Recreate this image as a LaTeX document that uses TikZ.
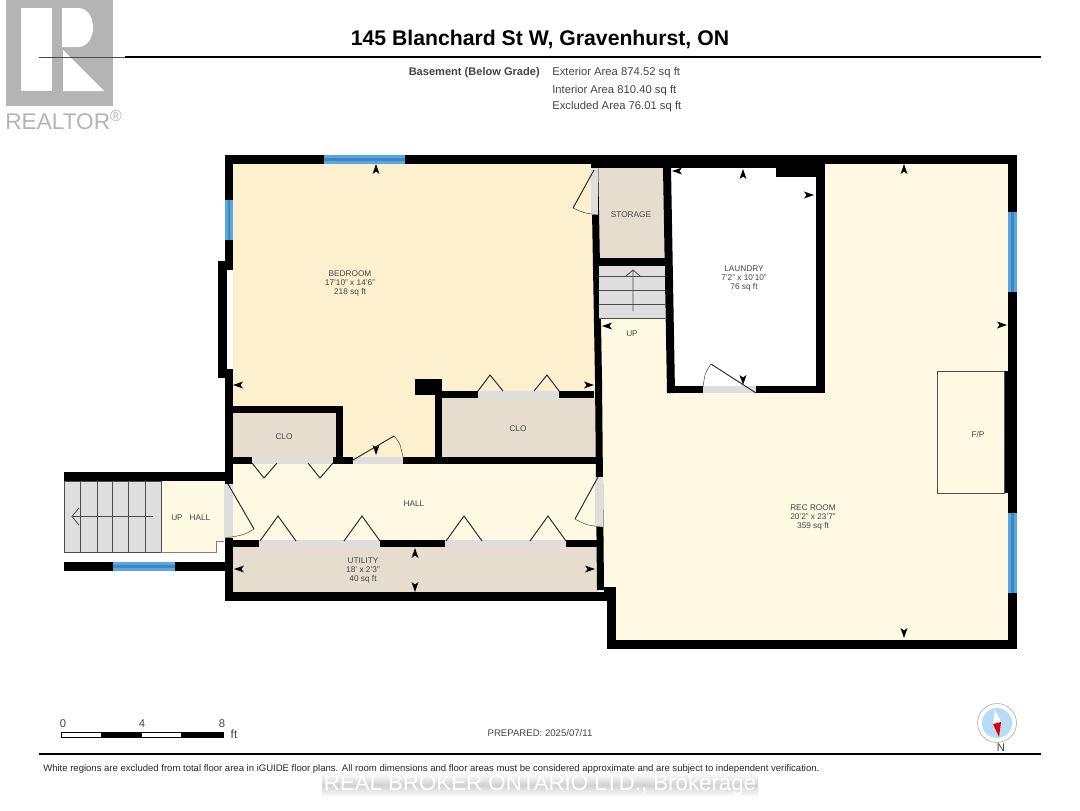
\documentclass[tikz,border=0pt]{standalone}
\usepackage{fontspec}
\setmainfont{Liberation Sans}
\usetikzlibrary{positioning}
\definecolor{mbed}{HTML}{FDF0CF}
\definecolor{mhall}{HTML}{FFF8E3}
\definecolor{mclo}{HTML}{E6DDCF}
\definecolor{mgray}{HTML}{DEDEDE}
\definecolor{mlogo}{HTML}{B4B4B4}
\definecolor{mglass}{HTML}{5BA6DC}
\definecolor{mglassd}{HTML}{3C88C6}
\definecolor{mdial}{HTML}{B5DDF7}
\definecolor{mtext}{HTML}{444444}
\tikzset{wall/.style = {fill=black}}
\tikzset{doorstrip/.style = {fill=mgray}}
\tikzset{leaf/.style = {draw=black!85, line width=0.7pt}}
\tikzset{swing/.style = {draw=black!70, line width=0.4pt}}
\tikzset{tread/.style = {draw=black!70, line width=0.6pt}}
\tikzset{room/.style = {font=\fontsize{6.2}{6.8}\selectfont, text=mtext, align=center, inner sep=0, yshift=-1pt}}
\tikzset{info/.style = {font=\fontsize{8.45}{9}\selectfont, text=mtext, inner sep=0, yshift=-1.2pt}}
\begin{document}
\begin{tikzpicture}[x=0.75pt, y=-0.75pt]
  \useasboundingbox (0, 0) rectangle (1080, 810);

  \fill [mhall] (600, 316) -- (665, 316) -- (667, 393) -- (825, 393) -- (825, 160) -- (1010, 160) -- (1010, 642) -- (612, 642) -- (612, 590) -- (600, 590) -- cycle;
  \fill [mbed] (233, 164) -- (592, 164) -- (596, 395) -- (436, 395) -- (436, 460) -- (343, 460) -- (343, 406) -- (233, 406) -- cycle;
  \fill [mhall] (233, 464) rectangle (597, 541);
  \fill [mhall] (161, 481) -- (226, 481) -- (226, 541) -- (216, 541) -- (216, 552) -- (161, 552) -- cycle;
  \foreach \xa/\ya/\xb/\yb in {233/413/337/458, 442/398/596/458, 233/547/598/593, 597/168/665/259}
    \fill [mclo] (\xa, \ya) rectangle (\xb, \yb);

  \foreach \xa/\ya/\xb/\yb in {225/155/1017/164, 592/155/776/168, 776/155/825/177, 225/155/233/601, 218/261/233/378,
      233/406/343/413, 336/406/343/464, 233/457/597/464, 415/379/442/395, 435/391/442/460, 435/391/594/398,
      604/587/616/601, 607/601/616/649, 225/592/607/601, 607/640/1017/649, 1008/155/1017/649,
      667/386/825/393, 816/155/825/393, 598/258/665/266, 233/540/597/547, 64/472/233/481, 64/562/225/571, 1004/371/1008/493}
    \fill [wall] (\xa, \ya) rectangle (\xb, \yb);
  \fill [wall] (591, 155) -- (598, 155) -- (602, 380) -- (604, 590) -- (597, 590) -- (595, 380) -- cycle;
  \fill [wall] (663, 168) -- (671, 168) -- (675, 393) -- (667, 393) -- cycle;
  \fill [white] (227, 270) rectangle (233, 369);

  \foreach \xa/\ya/\xb/\yb in {252/457/333/464, 353/457/403/464, 478/391/559/398, 259/540/380/547, 445/540/566/547,
      703/386/756/393, 591/168/598/215, 595/477/603/527, 224/484/233/538}
    \fill [doorstrip] (\xa, \ya) rectangle (\xb, \yb);

  \foreach \xa/\ya/\xb/\yb in {324/155/405/164, 113/562/175/571}
    {\fill [mglass] (\xa, \ya) rectangle (\xb, \yb);
     \fill [mglassd] (\xa, {(\ya+\yb)/2-1.3}) rectangle (\xb, {(\ya+\yb)/2+1.3});}
  \foreach \xa/\ya/\xb/\yb in {225/200/233/240, 1008/212/1017/292, 1008/513/1017/593}
    {\fill [mglass] (\xa, \ya) rectangle (\xb, \yb);
     \fill [mglassd] ({(\xa+\xb)/2-1.3}, \ya) rectangle ({(\xa+\xb)/2+1.3}, \yb);}

  % doors
  \foreach \xa/\xp/\xb/\ya/\yp in {252/264/277/463/478, 308/320/333/463/478, 260/278/296/541/516, 344/362/380/541/516,
      446/464/482/541/516, 530/548/566/541/516, 478/490/503/391/375, 534/547/559/391/375}
    \draw [leaf] (\xa, \ya) -- (\xp, \yp) -- (\xb, \ya);
  \draw [leaf] (353, 460) -- (394, 436);
  \draw [swing] (394, 436) .. controls (400, 443) .. (403, 457);
  \draw [leaf] (228, 484) -- (254, 529);
  \draw [swing] (254, 529) .. controls (244, 535) .. (225, 538);
  \draw [leaf] (594, 170) -- (573, 208);
  \draw [swing] (573, 208) .. controls (584, 213) .. (598, 215);
  \draw [leaf] (598, 477) -- (575, 519);
  \draw [swing] (575, 519) .. controls (586, 525) .. (602, 527);
  \draw [leaf] (756, 393) -- (711, 364);
  \draw [swing] (711, 364) .. controls (705, 373) .. (703, 387);

  % stairs
  \fill [mgray] (64, 481) rectangle (161, 552);
  \fill [mgray] (599, 266) rectangle (665, 318);
  \draw [tread] (64, 481) rectangle (161, 552);
  \foreach \x in {80, 97, 112, 128, 145}
    \draw [tread] (\x, 481) -- (\x, 552);
  \foreach \y in {276, 290, 304, 318}
    \draw [tread] (599, \y) -- (665, \y);
  \draw [tread] (153, 516.5) -- (72, 516.5) (79, 508) -- (72, 516.5) -- (79, 525);
  \draw [tread] (633, 311) -- (633, 270) (626, 276) -- (633, 270) -- (640, 276);
  \draw [tread, draw=black!50] (161, 552) -- (216, 552) -- (216, 541) -- (224, 541);

  \draw [draw=black!70, line width=0.6pt, fill=mhall] (937, 371) rectangle (1004, 493);

  % dimension ticks
  \foreach \x/\y/\a in {376/169/90, 238/385/180, 589/385/0, 376/450/-90, 677/171/180, 743/174/90, 809/195/0, 743/380/-90,
      607/326/180, 904/169/90, 1002/325/0, 904/633/-90, 239/569/180, 590/569/0, 415/553/90, 415/587/-90}
    \fill [shift={(\x, \y)}, rotate=\a] (5, 0) -- (-5, 3.5) -- (-2.5, 0) -- (-5, -3.5) -- cycle;

  \node [room] (bedroom) at (350, 282) {BEDROOM\\17'10" x 14'6"\\218 sq ft};
  \node [room] (laundry) at (744, 277) {LAUNDRY\\7'2" x 10'10"\\76 sq ft};
  \node [room] (storage) at (631, 213) {STORAGE};
  \node [room] (upright) at (632, 332) {UP};
  \node [room] (cloleft) at (284, 435) {CLO};
  \node [room] (cloright) at (518, 427) {CLO};
  \node [room] (hall) at (414, 502) {HALL};
  \node [room] (upleft) at (177, 516) {UP};
  \node [room] (hallleft) at (200, 516) {HALL};
  \node [room] (utility) at (363, 569) {UTILITY\\18' x 2'3"\\40 sq ft};
  \node [room] (recroom) at (813, 516) {REC ROOM\\20'2" x 23'7"\\359 sq ft};
  \node [room] (fp) at (978, 433) {F/P};

  % logo
  \fill [mlogo] (6, 0) rectangle (113, 106);
  \fill [white] (21, 8) rectangle (52, 91);
  \fill [white] (62, 8) -- (78, 8) .. controls (98, 8) and (98, 47) .. (78, 47) -- (62, 47) -- cycle;
  \fill [white] (63, 50) -- (104, 91) -- (63, 91) -- cycle;
  \node [font=\fontsize{17}{18}\selectfont, text=mlogo, inner sep=0, anchor=west] (realtor) at (5, 120) {REALTOR\textsuperscript{®}};

  % header
  \draw [line width=0.35pt, draw=black!70] (39, 57) -- (125, 57);
  \draw [line width=1.1pt] (125, 57) -- (1041, 57);
  \node [font=\fontsize{15.9}{17}\selectfont\bfseries, inner sep=0] (title) at (540, 39) {145 Blanchard St W, Gravenhurst, ON};
  \node [info, font=\fontsize{8.3}{9}\selectfont\bfseries, anchor=east] (level) at (540, 71) {Basement (Below Grade)};
  \node [info, anchor=west] (exterior) at (552, 71) {Exterior Area 874.52 sq ft};
  \node [info, anchor=west] (interior) at (552, 89) {Interior Area 810.40 sq ft};
  \node [info, anchor=west] (excluded) at (552, 105) {Excluded Area 76.01 sq ft};

  % scale bar
  \draw [line width=0.4pt, fill=white] (61, 732) rectangle (223, 737);
  \foreach \xa/\xb in {101/142, 181/223}
    \fill (\xa, 732) rectangle (\xb, 737);
  \node [info] (scalea) at (63, 722) {0};
  \node [info] (scaleb) at (142, 722) {4};
  \node [info] (scalec) at (222, 722) {8};
  \node [info, font=\fontsize{9}{9}\selectfont] (scaleunit) at (234, 733) {ft};

  \node [info, font=\fontsize{7.2}{9}\selectfont] (prepared) at (540, 731) {PREPARED: 2025/07/11};

  % compass
  \draw [line width=0.5pt, draw=black!30, fill=white] (997, 723) circle [radius=19.5];
  \fill [mdial] (997, 723) circle [radius=15];
  \fill [white] (995, 710) -- (993, 724) -- (1001, 722) -- cycle;
  \fill [red!90!black] (993, 724) -- (1001, 722) -- (999, 737) -- cycle;
  \node [info] (north) at (1001, 746) {N};

  % footer
  \draw [line width=1.1pt] (39, 754) -- (1041, 754);
  \node [info, font=\fontsize{7.15}{9}\selectfont, text=black!85, anchor=west] (note) at (43, 767) {White regions are excluded from total floor area in iGUIDE floor plans. All room dimensions and floor areas must be considered approximate and are subject to independent verification.};
  \node [font=\fontsize{16.7}{17}\selectfont, text=white, inner sep=1pt, top color=white, bottom color=white, middle color=black!18] (broker) at (540, 785) {REAL BROKER ONTARIO LTD., Brokerage};
\end{tikzpicture}
\end{document}
